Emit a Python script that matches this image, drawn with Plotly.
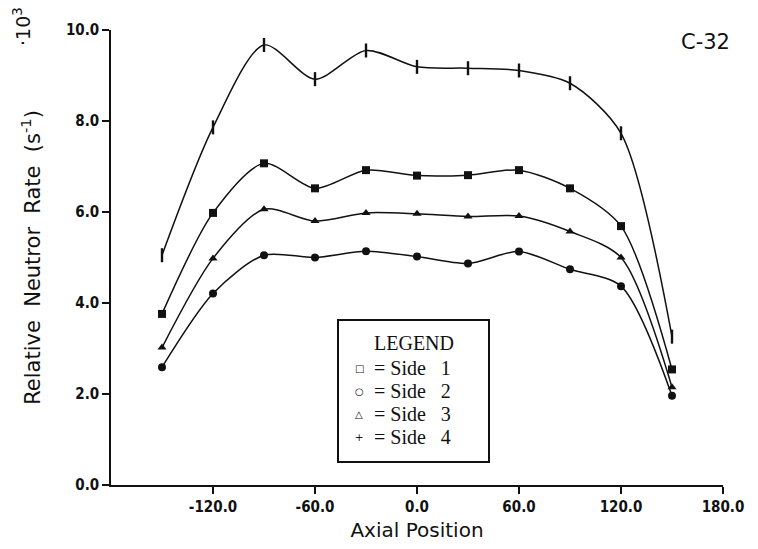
import plotly.graph_objects as go

# Axial measurement positions (cm) and relative neutron rates (x10^3 s^-1)
axial_position = [-150, -120, -90, -60, -30, 0, 30, 60, 90, 120, 150]
side_1 = [3.76, 5.98, 7.07, 6.52, 6.92, 6.80, 6.81, 6.92, 6.52, 5.69, 2.54]
side_2 = [2.59, 4.21, 5.05, 5.00, 5.14, 5.02, 4.87, 5.13, 4.74, 4.37, 1.96]
side_3 = [3.02, 4.98, 6.06, 5.80, 5.98, 5.96, 5.90, 5.91, 5.57, 5.00, 2.15]
side_4 = [5.05, 7.86, 9.67, 8.92, 9.55, 9.19, 9.16, 9.11, 8.83, 7.73, 3.26]

series_names = ["Side 1", "Side 2", "Side 3", "Side 4"]
legend_keys = ["\u25a1", "\u25cb", "\u25b3", "+"]

x_tick_vals = [-120, -60, 0, 60, 120, 180]
x_tick_text = ["-120.0", "-60.0", "0.0", "60.0", "120.0", "180.0"]
y_tick_vals = [0, 2, 4, 6, 8, 10]
y_tick_text = ["0.0", "2.0", "4.0", "6.0", "8.0", "10.0"]

INK = "#111111"
TICK_FONT = dict(family="Liberation Sans Narrow, DejaVu Sans Condensed, Liberation Sans",
                 size=15, color=INK, weight="bold")

# plot-area pixel frame, used to place the free-standing labels
L, R, T, B = 111, 723, 30, 485
def px(x):
    return (x - L) / (R - L)
def py(y):
    return (B - y) / (B - T)

fig = go.Figure()

markers = [
    dict(symbol="square", size=8, color=INK),
    dict(symbol="circle", size=8, color=INK),
    dict(symbol="triangle-up", size=8, color=INK),
    dict(symbol="line-ns", size=10, color=INK, line=dict(width=2.4, color=INK)),
]

for name, values, mk in zip(series_names, [side_1, side_2, side_3, side_4], markers):
    fig.add_trace(go.Scatter(
        x=axial_position, y=values, name=name,
        mode="lines+markers",
        line=dict(color=INK, width=1.5, shape="spline", smoothing=0.8),
        marker=mk,
        showlegend=False,
    ))

fig.update_xaxes(
    range=[-180, 180], tickvals=x_tick_vals, ticktext=x_tick_text,
    showgrid=False, zeroline=False, showline=True, linecolor=INK, linewidth=1.5,
    ticks="outside", ticklen=7, tickwidth=1.5, tickcolor=INK, tickfont=TICK_FONT,
    title=dict(text="Axial Position", font=dict(family="DejaVu Sans", size=20, color=INK), standoff=8),
)
fig.update_yaxes(
    range=[0, 10], tickvals=y_tick_vals, ticktext=y_tick_text,
    showgrid=False, zeroline=False, showline=True, linecolor=INK, linewidth=1.5,
    ticks="outside", ticklen=7, tickwidth=1.5, tickcolor=INK, tickfont=TICK_FONT,
    title=dict(text="Relative\u00a0\u00a0Neutror\u00a0\u00a0Rate\u00a0\u00a0(s<sup>-1</sup>)",
               font=dict(family="DejaVu Sans", size=21, color=INK), standoff=20),
)

# Box holding the marker key
fig.add_shape(type="rect", xref="paper", yref="paper",
              x0=px(338), x1=px(489), y0=py(462), y1=py(320),
              line=dict(color=INK, width=2), fillcolor="white")

serif = "Liberation Serif, Times New Roman, serif"
fig.add_annotation(xref="paper", yref="paper", x=px(414), y=py(343),
                   xanchor="center", yanchor="middle", text="LEGEND",
                   showarrow=False, font=dict(family=serif, size=20, color=INK))

entry_y = [368, 391, 414, 437]
for key, name, yy in zip(legend_keys, series_names, entry_y):
    fig.add_annotation(xref="paper", yref="paper", x=px(359), y=py(yy),
                       xanchor="center", yanchor="middle", text=key,
                       showarrow=False, font=dict(family="DejaVu Sans", size=10, color=INK))
    label = "= " + name.replace(" ", "\u00a0\u00a0\u00a0")
    fig.add_annotation(xref="paper", yref="paper", x=px(372), y=py(yy),
                       xanchor="left", yanchor="middle", text=label, showarrow=False,
                       font=dict(family=serif, size=20, color=INK))

# Case label and scale factor
fig.add_annotation(xref="paper", yref="paper", x=px(705), y=py(42),
                   xanchor="center", yanchor="middle", text="C-32", showarrow=False,
                   font=dict(family="DejaVu Sans", size=21, color=INK))
fig.add_annotation(xref="paper", yref="paper", x=px(22), y=py(27),
                   xanchor="center", yanchor="middle",
                   text="\u00b710<sup>3</sup>", textangle=-90, showarrow=False,
                   font=dict(family="DejaVu Sans", size=19, color=INK))

fig.update_layout(
    width=758, height=549,
    margin=dict(l=L, r=758 - R, t=T, b=549 - B),
    paper_bgcolor="white", plot_bgcolor="white",
)

fig.write_html("out.html")
